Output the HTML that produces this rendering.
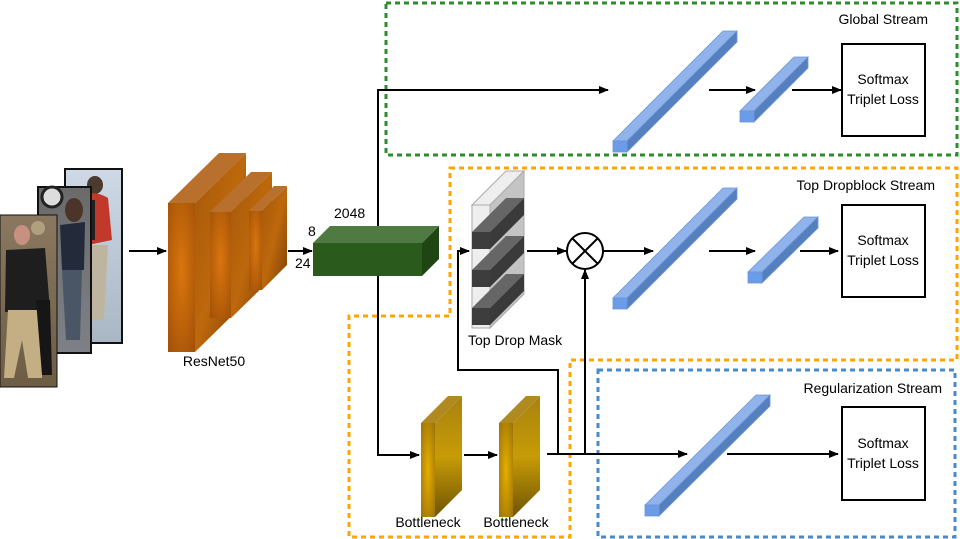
<!DOCTYPE html>
<html><head><meta charset="utf-8"><style>
html,body{margin:0;padding:0;background:#fff;}
svg{display:block;font-family:"Liberation Sans",Arial,sans-serif;}
</style></head><body>
<svg width="960" height="539" viewBox="0 0 960 539" xmlns="http://www.w3.org/2000/svg">
<defs>
<marker id="ar" markerWidth="10" markerHeight="8" refX="9" refY="4" orient="auto" markerUnits="userSpaceOnUse">
<path d="M0,0 L10,4 L0,8 z" fill="#000"/></marker>
<radialGradient id="or" cx="0.5" cy="0.45" r="0.7"><stop offset="0" stop-color="#d9760e"/><stop offset="1" stop-color="#a45208"/></radialGradient>
<linearGradient id="ors" x1="0" y1="0" x2="1" y2="1"><stop offset="0" stop-color="#a5580a"/><stop offset="0.5" stop-color="#bd680c"/><stop offset="1" stop-color="#7d3e05"/></linearGradient>
<radialGradient id="yl" cx="0.5" cy="0.5" r="0.7"><stop offset="0" stop-color="#e6ae00"/><stop offset="1" stop-color="#9a7208"/></radialGradient>
<linearGradient id="yls" x1="0" y1="0" x2="0" y2="1"><stop offset="0" stop-color="#a88210"/><stop offset="0.5" stop-color="#c79b06"/><stop offset="1" stop-color="#6f5404"/></linearGradient>
<linearGradient id="p1" x1="0" y1="0" x2="0" y2="1"><stop offset="0" stop-color="#cfd9e6"/><stop offset="1" stop-color="#a9b6c4"/></linearGradient>
<linearGradient id="p2" x1="0" y1="0" x2="0" y2="1"><stop offset="0" stop-color="#6a6a6a"/><stop offset="1" stop-color="#7d8187"/></linearGradient>
<linearGradient id="p3" x1="0" y1="0" x2="0" y2="1"><stop offset="0" stop-color="#8a7860"/><stop offset="1" stop-color="#6d5d45"/></linearGradient>
</defs>

<rect x="386" y="3" width="571" height="152" fill="none" stroke="#2e8b2e" stroke-width="3" stroke-dasharray="5,4"/>
<path d="M450,168 H957 V360 H570 V537 H349 V316 H450 Z" fill="none" stroke="#ffa500" stroke-width="3" stroke-dasharray="5,4"/>
<rect x="598" y="370" width="357" height="167" fill="none" stroke="#4a8ac8" stroke-width="3" stroke-dasharray="5,4"/>

<!-- images -->
<rect x="65" y="169" width="57" height="174" fill="url(#p1)" stroke="#111" stroke-width="2"/>
<ellipse cx="95" cy="185" rx="8" ry="9" fill="#4a3a30"/>
<path d="M85,195 Q95,190 108,198 L112,240 L88,245 Z" fill="#c0392b"/>
<rect x="80" y="200" width="15" height="40" fill="#222"/>
<path d="M88,245 L108,245 L104,320 L92,320 Z" fill="#bdb5a0"/>
<rect x="38" y="187" width="53" height="166" fill="url(#p2)" stroke="#111" stroke-width="2"/>
<circle cx="52" cy="197" r="10" fill="#ddd" stroke="#222" stroke-width="3"/>
<ellipse cx="74" cy="210" rx="9" ry="12" fill="#4a3528"/>
<path d="M60,225 L85,222 L84,270 L62,270 Z" fill="#232a3a"/>
<path d="M62,270 L82,270 L80,340 L66,340 Z" fill="#4a5566"/>
<rect x="0" y="215" width="57" height="172" fill="url(#p3)" stroke="#111" stroke-width="1"/>
<ellipse cx="22" cy="235" rx="8" ry="10" fill="#c89080"/>
<ellipse cx="38" cy="228" rx="7" ry="7" fill="#b0a080"/>
<path d="M6,250 L45,248 L50,310 L5,312 Z" fill="#1e1e1e"/>
<path d="M8,310 L44,310 L42,378 L28,378 L22,340 L14,378 L4,378 Z" fill="#c4ae84"/>
<path d="M36,300 L50,300 L52,375 L42,375 Z" fill="#161616"/>

<line x1="129" y1="251" x2="166" y2="251" stroke="#000" stroke-width="2" marker-end="url(#ar)"/>

<polygon points="168,203 219,153 246,153 195,203" fill="#b8702c"/>
<polygon points="195,203 246,153 246,302 195,352" fill="url(#ors)"/>
<rect x="168" y="203" width="27" height="149" fill="url(#or)"/>
<polygon points="210,212 251,172 272,172 231,212" fill="#b8702c"/>
<polygon points="231,212 272,172 272,278 231,318" fill="url(#ors)"/>
<rect x="210" y="212" width="21" height="106" fill="url(#or)"/>
<polygon points="249,211 274,186 287,186 262,211" fill="#b8702c"/>
<polygon points="262,211 287,186 287,265 262,290" fill="url(#ors)"/>
<rect x="249" y="211" width="13" height="79" fill="url(#or)"/>
<text x="214" y="366" font-size="14" text-anchor="middle">ResNet50</text>

<line x1="288" y1="251" x2="312" y2="251" stroke="#000" stroke-width="2" marker-end="url(#ar)"/>

<polygon points="313,243 330,226 439,226 422,243" fill="#4f7a41"/>
<polygon points="422,243 439,226 439,259 422,276" fill="#1f4512"/>
<rect x="313" y="243" width="109" height="33" fill="#2a5a1c"/>
<text x="334" y="218" font-size="14">2048</text>
<text x="308" y="236" font-size="14">8</text>
<text x="295" y="268" font-size="14">24</text>

<polyline points="378,226 378,90 608,90" fill="none" stroke="#000" stroke-width="2" marker-end="url(#ar)"/>
<polyline points="378,276 378,455 419,455" fill="none" stroke="#000" stroke-width="2" marker-end="url(#ar)"/>
<line x1="464" y1="455" x2="497" y2="455" stroke="#000" stroke-width="2" marker-end="url(#ar)"/>
<line x1="547" y1="454" x2="687" y2="454" stroke="#000" stroke-width="2" marker-end="url(#ar)"/>
<polyline points="558,454 558,370 458,370 458,251 469,251" fill="none" stroke="#000" stroke-width="2" marker-end="url(#ar)"/>
<line x1="585" y1="454" x2="585" y2="270" stroke="#000" stroke-width="2" marker-end="url(#ar)"/>
<line x1="527" y1="251" x2="566" y2="251" stroke="#000" stroke-width="2" marker-end="url(#ar)"/>
<circle cx="585" cy="251" r="18" fill="#fff" stroke="#000" stroke-width="2"/>
<line x1="572" y1="238" x2="598" y2="264" stroke="#000" stroke-width="2"/>
<line x1="598" y1="238" x2="572" y2="264" stroke="#000" stroke-width="2"/>
<line x1="603" y1="251" x2="653" y2="251" stroke="#000" stroke-width="2" marker-end="url(#ar)"/>

<polygon points="472,205 506,171 524,171 490,205" fill="#eee" stroke="#aaa"/>
<polygon points="490,205 524,171 524,294 490,328" fill="#c4c4c4" stroke="#aaa"/>
<rect x="472" y="205" width="18" height="123" fill="#eee" stroke="#aaa"/>
<g>
<polygon points="472,232 506,198 524,198 490,232" fill="#666"/><polygon points="490,232 524,198 524,215 490,249" fill="#3a3a3a"/><rect x="472" y="232" width="18" height="17" fill="#3d3d3d"/>
<polygon points="472,270 506,236 524,236 490,270" fill="#666"/><polygon points="490,270 524,236 524,253 490,287" fill="#3a3a3a"/><rect x="472" y="270" width="18" height="17" fill="#3d3d3d"/>
<polygon points="472,308 506,274 524,274 490,308" fill="#666"/><polygon points="490,308 524,274 524,291 490,325" fill="#3a3a3a"/><rect x="472" y="308" width="18" height="17" fill="#3d3d3d"/>
</g>
<text x="468" y="345" font-size="14">Top Drop Mask</text>

<polygon points="421,423 448,396 462,396 435,423" fill="#b08a20"/>
<polygon points="435,423 462,396 462,490 435,517" fill="url(#yls)"/>
<rect x="421" y="423" width="14" height="94" fill="url(#yl)"/>
<polygon points="499,423 526,396 540,396 513,423" fill="#b08a20"/>
<polygon points="513,423 540,396 540,490 513,517" fill="url(#yls)"/>
<rect x="499" y="423" width="14" height="94" fill="url(#yl)"/>
<text x="428" y="527" font-size="14" text-anchor="middle">Bottleneck</text>
<text x="516" y="527" font-size="14" text-anchor="middle">Bottleneck</text>

<g stroke="#6d95d8" stroke-width="0.8">
<polygon points="613,141 723,31 737,31 627,141" fill="#8fb3ea"/><polygon points="627,141 737,31 737,42 627,152" fill="#5580bd"/><rect x="613" y="141" width="14" height="11" fill="#6b9ce8"/>
<polygon points="740,111 794,57 808,57 754,111" fill="#8fb3ea"/><polygon points="754,111 808,57 808,68 754,122" fill="#5580bd"/><rect x="740" y="111" width="14" height="11" fill="#6b9ce8"/>
<polygon points="613,298 723,188 737,188 627,298" fill="#8fb3ea"/><polygon points="627,298 737,188 737,199 627,309" fill="#5580bd"/><rect x="613" y="298" width="14" height="11" fill="#6b9ce8"/>
<polygon points="748,272 804,217 818,217 762,272" fill="#8fb3ea"/><polygon points="762,272 818,217 818,228 762,283" fill="#5580bd"/><rect x="748" y="272" width="14" height="11" fill="#6b9ce8"/>
<polygon points="645,505 756,395 770,395 659,505" fill="#8fb3ea"/><polygon points="659,505 770,395 770,406 659,516" fill="#5580bd"/><rect x="645" y="505" width="14" height="11" fill="#6b9ce8"/>
</g>

<g stroke="#000" stroke-width="2">
<line x1="709" y1="90" x2="755" y2="90" marker-end="url(#ar)"/>
<line x1="792" y1="90" x2="841" y2="90" marker-end="url(#ar)"/>
<line x1="709" y1="251" x2="755" y2="251" marker-end="url(#ar)"/>
<line x1="800" y1="251" x2="838" y2="251" marker-end="url(#ar)"/>
<line x1="727" y1="454" x2="838" y2="454" marker-end="url(#ar)"/>
</g>

<g fill="#fff" stroke="#000" stroke-width="2">
<rect x="842" y="44" width="83" height="92"/>
<rect x="842" y="205" width="83" height="92"/>
<rect x="842" y="407" width="83" height="93"/>
</g>
<g font-size="14" text-anchor="middle">
<text x="883" y="84">Softmax</text><text x="883" y="104">Triplet Loss</text>
<text x="883" y="245">Softmax</text><text x="883" y="265">Triplet Loss</text>
<text x="883" y="448">Softmax</text><text x="883" y="468">Triplet Loss</text>
</g>
<g font-size="14" text-anchor="end">
<text x="928" y="24">Global Stream</text>
<text x="935" y="190">Top Dropblock Stream</text>
<text x="942" y="393">Regularization Stream</text>
</g>
</svg>
</body></html>
